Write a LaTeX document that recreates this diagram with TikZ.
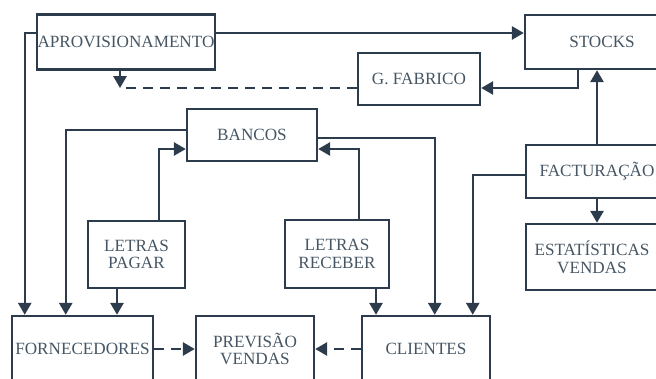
\documentclass[tikz,border=0pt]{standalone}
\usepackage{fontspec}
\setmainfont{Liberation Serif}
\usepackage{xcolor}
\usepackage{tikz}
\usetikzlibrary{arrows.meta, positioning, calc}
\definecolor{inkblue}{RGB}{44,60,76}
\definecolor{textblue}{RGB}{70,86,100}

\begin{document}
\begin{tikzpicture}[
  box/.style={rectangle, draw=inkblue, line width=1.8pt, fill=white,
              inner sep=0pt, align=center, text=textblue,
              font=\fontsize{12.2}{12.5}\selectfont},
  arr/.style={-{Triangle[length=8.5pt, width=9.5pt]}, line width=1.3pt, draw=inkblue},
  dasharr/.style={arr, dash pattern=on 0.25cm off 0.175cm},
]
  \useasboundingbox (0,0) rectangle (16.4,9.475);

  % Top row
  \node[box, minimum width=4.45cm, minimum height=1.375cm] (aprov) at (3.15,8.425) {APROVISIONAMENTO};
  \node[box, minimum width=3.85cm, minimum height=1.35cm]  (stocks) at (15.05,8.425) {STOCKS};
  \node[box, minimum width=3.05cm, minimum height=1.3cm]   (gfab) at (10.475,7.5) {G. FABRICO};

  % Middle
  \node[box, minimum width=3.25cm, minimum height=1.3cm]   (bancos) at (6.3,6.1) {BANCOS};
  \node[box, minimum width=3.55cm, minimum height=1.325cm] (factur) at (14.925,5.1875) {FACTURAÇÃO};
  \node[box, minimum width=3.3cm, minimum height=1.65cm]   (estat) at (14.8,3.05) {ESTATÍSTICAS\\VENDAS};
  \node[box, minimum width=2.425cm, minimum height=1.675cm] (lpagar) at (3.4125,3.1125) {LETRAS\\PAGAR};
  \node[box, minimum width=2.6cm, minimum height=1.7cm]    (lreceber) at (8.425,3.125) {LETRAS\\RECEBER};

  % Bottom row
  \node[box, minimum width=3.525cm, minimum height=1.65cm] (fornec) at (2.0625,0.75) {FORNECEDORES};
  \node[box, minimum width=2.95cm, minimum height=1.65cm]  (previsao) at (6.375,0.75) {PREVISÃO\\VENDAS};
  \node[box, minimum width=3.2cm, minimum height=1.65cm]   (clientes) at (10.65,0.75) {CLIENTES};

  % Arrows
  \draw[arr] ([yshift=0.225cm]aprov.east) -- ([yshift=0.225cm]stocks.west);
  \draw[arr] ([yshift=0.225cm]aprov.west) -| ([xshift=0.35cm]fornec.north west);
  \draw[arr] ([xshift=-0.6cm]stocks.south) |- ([yshift=-0.225cm]gfab.east);

  % G. Fabrico back to Aprovisionamento
  \coordinate (gw) at ([yshift=-0.225cm]gfab.west);
  \coordinate (gk) at ([xshift=-0.15cm]aprov.south |- gw);
  \draw[inkblue, line width=1.3pt, dash pattern=on 0.25cm off 0.175cm] (gw) -- (gk);
  \draw[arr] ([xshift=-0.15cm]aprov.south) -- (gk);

  \draw[arr] (factur.north) -- (factur.north |- stocks.south);
  \draw[arr] (factur.south) -- (factur.south |- estat.north);
  \draw[arr] ([yshift=-0.0875cm]factur.west) -| ([xshift=2.8cm]clientes.north west);

  \draw[arr] ([yshift=0.125cm]bancos.west) -| ([xshift=1.375cm]fornec.north west);
  \draw[arr] ([yshift=-0.075cm]bancos.east) -| ([xshift=1.85cm]clientes.north west);
  \draw[arr] ([xshift=0.5625cm]lpagar.north) |- ([yshift=-0.35cm]bancos.west);
  \draw[arr] ([xshift=0.55cm]lreceber.north) |- ([yshift=-0.35cm]bancos.east);

  \draw[arr] ([xshift=-0.4875cm]lpagar.south) -- ([xshift=-0.4875cm]lpagar.south |- fornec.north);
  \draw[arr] ([xshift=0.975cm]lreceber.south) -- ([xshift=0.975cm]lreceber.south |- clientes.north);

  % Forecast inputs
  \draw[dasharr] (fornec.east) -- (previsao.west);
  \draw[dasharr] (clientes.west) -- (previsao.east);

\end{tikzpicture}
\end{document}
